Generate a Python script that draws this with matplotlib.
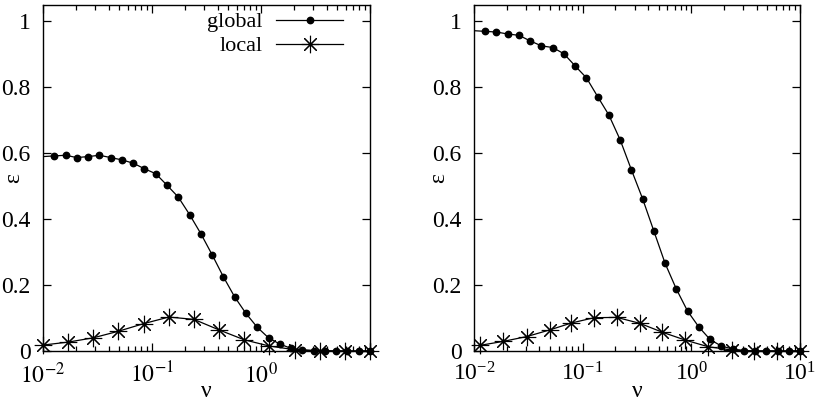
import matplotlib
matplotlib.use('Agg')
import matplotlib.pyplot as plt
from matplotlib.ticker import LogLocator, NullFormatter, FixedLocator
from matplotlib.lines import Line2D

plt.rcParams['font.family'] = ['Liberation Serif', 'DejaVu Serif']
plt.rcParams['mathtext.fontset'] = 'stix'
plt.rcParams['font.size'] = 17

# nu values
nu_global = [0.01, 0.01269, 0.01610, 0.02043, 0.02593, 0.03290, 0.04175, 0.05298,
             0.06723, 0.08532, 0.1083, 0.1374, 0.1743, 0.2212, 0.2807, 0.3562,
             0.4520, 0.5736, 0.7279, 0.9237, 1.172, 1.487, 1.887, 2.395, 3.039,
             3.857, 4.894, 6.210, 7.881, 10.0]
nu_local_left = [0.01, 0.01701, 0.02894, 0.04924, 0.08377, 0.1425, 0.2425, 0.4125,
                 0.7017, 1.194, 2.031, 3.455, 5.878, 10.0]
nu_local_right = [0.01128, 0.01849, 0.03076, 0.04977, 0.0788, 0.1273, 0.2061, 0.3355,
                  0.5410, 0.8811, 1.429, 2.346, 3.764, 6.09, 10.0]

# epsilon, left panel
eps_global_left = [0.59, 0.592, 0.594, 0.587, 0.590, 0.594, 0.587, 0.580, 0.570, 0.553,
                   0.538, 0.503, 0.467, 0.414, 0.356, 0.292, 0.225, 0.164, 0.114,
                   0.072, 0.040, 0.021, 0.008, 0.003, 0.001, 0.0, 0.0, 0.0, 0.0, 0.0]
eps_local_left = [0.018, 0.027, 0.040, 0.060, 0.083, 0.103, 0.096, 0.064, 0.034,
                  0.015, 0.004, 0.001, 0.0, 0.0]

# epsilon, right panel
eps_global_right = [0.972, 0.970, 0.968, 0.962, 0.958, 0.941, 0.926, 0.921, 0.902, 0.865,
                    0.829, 0.772, 0.716, 0.641, 0.550, 0.462, 0.364, 0.266, 0.188,
                    0.121, 0.073, 0.035, 0.015, 0.006, 0.001, 0.0, 0.0, 0.0, 0.0, 0.0]
eps_local_right = [0.017, 0.029, 0.044, 0.064, 0.085, 0.101, 0.102, 0.084, 0.057,
                   0.033, 0.013, 0.003, 0.0, 0.0, 0.0]

yticks = [0, 0.2, 0.4, 0.6, 0.8, 1]
ytick_labels = ['0', '0.2', '0.4', '0.6', '0.8', '1']

fig = plt.figure(figsize=(8.2, 4.04), dpi=100)
ax1 = fig.add_axes([43/820, 53/404, 327/820, 346/404])
ax2 = fig.add_axes([474/820, 53/404, 326/820, 346/404])

star = (8, 2, 0)


def draw(ax, g_x, g_y, l_x, l_y, legend):
    # lines (clipped) - first global point sits just left of the frame
    ax.plot(g_x, g_y, '-', color='black', lw=0.9)
    ax.plot(l_x, l_y, '-', color='black', lw=0.9)
    ax.plot(g_x[1:], g_y[1:], 'o', color='black', ms=4.6, clip_on=False, zorder=3)
    ax.plot(l_x, l_y, linestyle='none', marker=star, color='black', ms=12.5,
            mew=0.8, clip_on=False, zorder=3)
    ax.set_xscale('log')
    ax.set_xlim(0.01, 10)
    ax.set_ylim(0, 1.05)
    ax.set_yticks(yticks)
    ax.set_yticklabels(ytick_labels)
    ax.xaxis.set_major_locator(FixedLocator([0.01, 0.1, 1, 10]))
    ax.xaxis.set_minor_locator(LogLocator(base=10, subs=range(2, 10), numticks=20))
    ax.xaxis.set_minor_formatter(NullFormatter())
    ax.tick_params(which='both', direction='in', top=True, right=True, width=0.9)
    ax.tick_params(which='major', length=6)
    ax.tick_params(which='minor', length=3.5)
    ax.tick_params(axis='y', pad=9)
    ax.tick_params(axis='x', pad=8)
    for s in ax.spines.values():
        s.set_linewidth(1.0)
    ax.set_xlabel('ν', va='center')
    ax.set_ylabel('ε', va='center')
    ax.xaxis.set_label_coords(0.5, -0.118)
    if legend:
        h1 = Line2D([], [], color='black', lw=0.9, marker='o', ms=4.6)
        h2 = Line2D([], [], color='black', lw=0.9, marker=star, ms=12.5, mew=0.8)
        ax.legend([h1, h2], ['global', 'local'], loc='upper right', fontsize=16,
                  bbox_to_anchor=(0.965, 1.025), frameon=False, markerfirst=False,
                  handlelength=3.0, handletextpad=0.6, labelspacing=0.15,
                  borderaxespad=0.3)


draw(ax1, nu_global, eps_global_left, nu_local_left, eps_local_left, True)
draw(ax2, nu_global, eps_global_right, nu_local_right, eps_local_right, False)

ax1.yaxis.set_label_coords(-0.09, 0.5)
ax2.yaxis.set_label_coords(-0.11, 0.5)

# left panel has no label at 10^1
ax1.set_xticks([0.01, 0.1, 1, 10])
ax1.set_xticklabels(['$10^{-2}$', '$10^{-1}$', '$10^{0}$', ''])

fig.savefig('out.png', dpi=100)
